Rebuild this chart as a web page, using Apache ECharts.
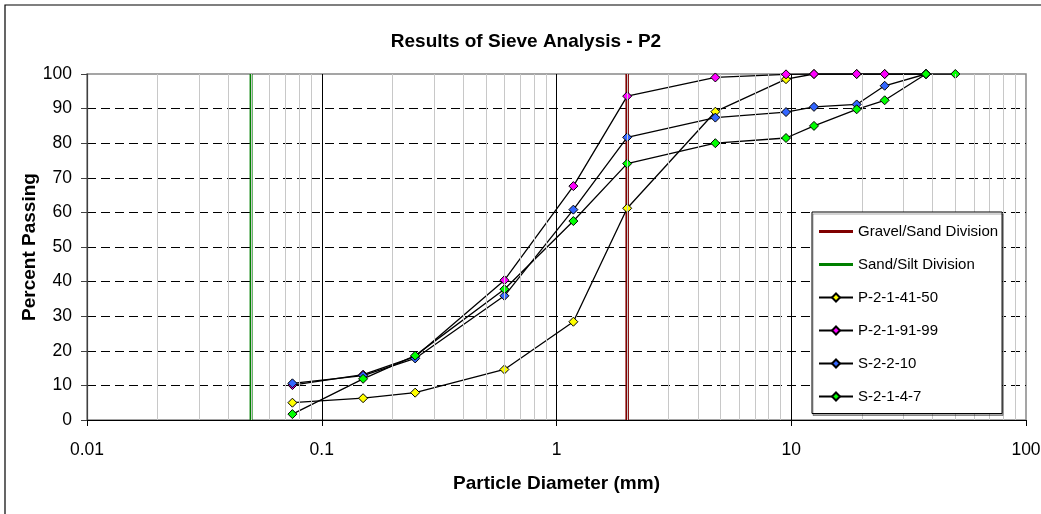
<!DOCTYPE html>
<html>
<head>
<meta charset="utf-8">
<script src="https://cdn.jsdelivr.net/npm/echarts@6/dist/echarts.min.js"></script>
<style>html,body{margin:0;padding:0;background:#fff;}#c{width:1041px;height:514px;}</style>
</head>
<body>
<div id="c"></div>
<script>
const titleText = 'Results of Sieve Analysis - P2';
const xAxisTitle = 'Particle Diameter (mm)';
const yAxisTitle = 'Percent Passing';
const sieveSizes = [0.075, 0.15, 0.25, 0.6, 1.18, 2, 4.75, 9.5, 12.5, 19, 25, 37.5, 50];
const seriesNames = ['P-2-1-41-50', 'P-2-1-91-99', 'S-2-2-10', 'S-2-1-4-7'];
const p214150 = [5.0, 6.3, 7.9, 14.6, 28.4, 61.2, 89.1, 98.5, 100, 100, 100, 100, null];
const p219199 = [10.1, 13.1, 18.3, 40.4, 67.6, 93.6, 99.0, 99.9, 100, 100, 100, 100, null];
const s2210 = [10.6, 12.8, 17.8, 35.9, 60.8, 81.7, 87.4, 89.0, 90.5, 91.2, 96.6, 100, null];
const s2147 = [1.7, 11.9, 18.6, 37.8, 57.5, 74.1, 80.0, 81.5, 85.0, 89.8, 92.4, 100, 100];
const seriesColors = ['#FFFF00', '#FF00FF', '#3366FF', '#00FF00'];
const divisionNames = ['Gravel/Sand Division', 'Sand/Silt Division'];
const gravelSandDiameter = 2;
const sandSiltDiameter = 0.05;
const divisionRange = [0, 100];
const minorGridValues = [0.02, 0.03, 0.04, 0.05, 0.06, 0.07, 0.08, 0.09,
  0.2, 0.3, 0.4, 0.5, 0.6, 0.7, 0.8, 0.9,
  2, 3, 4, 5, 6, 7, 8, 9,
  20, 30, 40, 50, 60, 70, 80, 90];

const FONT = 'Liberation Sans, Arial, sans-serif';
const valueSets = [p214150, p219199, s2210, s2147];
function pairs(vals) {
  const out = [];
  sieveSizes.forEach((d, i) => { if (vals[i] != null) out.push([d, vals[i]]); });
  return out;
}
const lineIcon = 'path://M0,0L0.01,0Z M0,3.5L34,3.5L34,6.5L0,6.5Z M33.99,10L34,10Z';

const dataSeries = seriesNames.map((name, i) => ({
  name: name,
  type: 'line',
  data: pairs(valueSets[i]),
  symbol: 'diamond',
  symbolSize: 9,
  showAllSymbol: true,
  color: seriesColors[i],
  itemStyle: { color: seriesColors[i], borderColor: '#000', borderWidth: 1 },
  lineStyle: { color: '#000', width: 1.3 },
  z: 3
}));

const chart = echarts.init(document.getElementById('c'), null, { renderer: 'canvas' });
chart.setOption({
  animation: false,
  backgroundColor: '#fff',
  graphic: [
    { type: 'rect', shape: { x: 5, y: 5, width: 1100, height: 600 }, style: { fill: 'none', stroke: '#000', lineWidth: 1.2 }, silent: true, z: -10 },
    { type: 'text', x: 526, y: 42, style: { text: titleText, font: 'bold 19px ' + FONT, fill: '#000', textAlign: 'center', textVerticalAlign: 'middle' }, z: 10 }
  ],
  grid: { left: 87, right: 15, top: 74, bottom: 94, show: true, borderColor: '#888', borderWidth: 1.5, outerBoundsMode: 'none', containLabel: false },
  legend: {
    orient: 'vertical',
    left: 812, top: 212,
    padding: [12, 4, 9.5, 6],
    itemWidth: 34, itemHeight: 10, itemGap: 18,
    backgroundColor: '#fff', borderColor: '#000', borderWidth: 1,
    shadowColor: 'rgba(0,0,0,0.35)', shadowOffsetX: 1, shadowOffsetY: 2, shadowBlur: 0,
    textStyle: { fontFamily: FONT, fontSize: 15, color: '#000' },
    data: [
      { name: divisionNames[0], icon: lineIcon },
      { name: divisionNames[1], icon: lineIcon }
    ].concat(seriesNames),
    selectedMode: false,
    z: 20
  },
  xAxis: {
    type: 'log', logBase: 10, min: 0.01, max: 100,
    name: xAxisTitle, nameLocation: 'middle', nameGap: 54, nameMoveOverlap: false,
    nameTextStyle: { fontFamily: FONT, fontSize: 19, fontWeight: 'bold', color: '#000' },
    axisLine: { show: true, lineStyle: { color: '#000', width: 1.2 } },
    axisTick: { show: true, length: 6, lineStyle: { color: '#000' } },
    axisLabel: { fontFamily: FONT, fontSize: 17.5, color: '#000', margin: 21, showMinLabel: true, showMaxLabel: true,
      formatter: v => String(+v.toPrecision(6)) },
    splitLine: { show: true, showMinLine: false, showMaxLine: false, lineStyle: { color: '#000', width: 1 } },
    minorTick: { show: false }, minorSplitLine: { show: false }
  },
  yAxis: {
    type: 'value', min: 0, max: 100, interval: 10,
    name: yAxisTitle, nameLocation: 'middle', nameGap: 48, nameMoveOverlap: false,
    nameTextStyle: { fontFamily: FONT, fontSize: 19, fontWeight: 'bold', color: '#000' },
    axisLine: { show: true, lineStyle: { color: '#404040', width: 1.2 } },
    axisTick: { show: true, length: 6, lineStyle: { color: '#404040' } },
    axisLabel: { fontFamily: FONT, fontSize: 17.5, color: '#000', margin: 15 },
    splitLine: { show: true, showMinLine: false, showMaxLine: false, lineStyle: { color: '#000', width: 1, type: [9, 5] } }
  },
  series: [
    {
      name: 'minor-grid', type: 'line', data: [], silent: true, z: 1,
      markLine: {
        silent: true, symbol: ['none', 'none'], label: { show: false },
        lineStyle: { color: '#c8c8c8', width: 1, type: 'solid' },
        data: minorGridValues.map(v => ({ xAxis: v }))
      }
    },
    {
      name: divisionNames[0], type: 'line',
      data: divisionRange.map(y => [gravelSandDiameter, y]),
      symbol: 'none', color: '#800000',
      itemStyle: { color: '#800000' },
      lineStyle: { color: '#800000', width: 3.5 }, z: 2
    },
    {
      name: divisionNames[1], type: 'line',
      data: divisionRange.map(y => [sandSiltDiameter, y]),
      symbol: 'none', color: '#008000',
      itemStyle: { color: '#008000' },
      lineStyle: { color: '#008000', width: 3 }, z: 2
    }
  ].concat(dataSeries)
});
</script>
</body>
</html>
